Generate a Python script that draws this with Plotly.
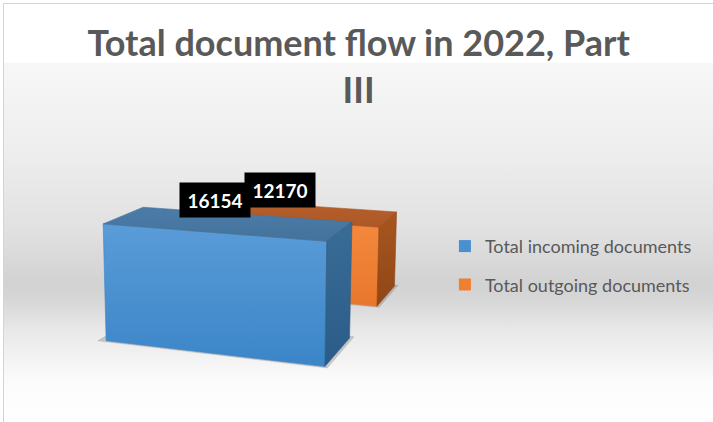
import math
import plotly.graph_objects as go

# ---- data -------------------------------------------------------------
SERIES = ["Total incoming documents", "Total outgoing documents"]
VALUES = [16154, 12170]
TITLE = "Total document flow in 2022, Part<br>III"

# ---- styling ------------------------------------------------------------
# per series: (front top, front bottom), (top face), (side top, side bottom), legend swatch
FACE_COLORS = [
    dict(front=("#5a9cd8", "#3b85c8"), top=("#4b7ca8", "#44729c"),
         side=("#3a6c98", "#2b5c88"), swatch="#4a8fd0"),
    dict(front=("#f58a3e", "#e8772c"), top=("#b5602c", "#ad5825"),
         side=("#a9561f", "#8f4616"), swatch="#f07f30"),
]
TEXT_GREY = "#595959"
W_PX, H_PX = 713, 422

# ---- simple pinhole camera for the 3-D columns ------------------------------
YAW = math.radians(20.0)
PITCH = math.radians(11.3)
FOCAL = 1084.0
CENTER = (241.0, 215.0)
CAM = (454.6, 316.7, -877.0)

BOX_W = 213.7          # column width (world units)
BOX_D = 86.7           # column depth
ROW_GAP = 115.0        # gap between series rows along the depth axis
UNITS_PER_DOC = 112.6 / 16154.0

sa, ca = math.sin(YAW), math.cos(YAW)
sb, cb = math.sin(PITCH), math.cos(PITCH)
RIGHT = (ca, 0.0, sa)
UP = (-sa * sb, cb, ca * sb)
FWD = (-sa * cb, -sb, ca * cb)


def project(X, Y, Z):
    p = (X - CAM[0], Y - CAM[1], Z - CAM[2])
    pr = sum(a * b for a, b in zip(p, RIGHT))
    pu = sum(a * b for a, b in zip(p, UP))
    pf = sum(a * b for a, b in zip(p, FWD))
    return CENTER[0] + FOCAL * pr / pf, CENTER[1] - FOCAL * pu / pf


def poly(points, c_top, c_bot, opacity=1.0):
    xy = [project(*p) for p in points]
    xs = [q[0] for q in xy] + [xy[0][0]]
    ys = [q[1] for q in xy] + [xy[0][1]]
    return go.Scatter(
        x=xs, y=ys, mode="lines", fill="toself",
        line=dict(width=0.6, color=c_bot),
        fillgradient=dict(type="vertical", colorscale=[[0, c_top], [1, c_bot]],
                          start=min(ys), stop=max(ys)),
        opacity=opacity, hoverinfo="skip", showlegend=False,
    )


fig = go.Figure()

# background: soft horizontal band inside a thin frame (frame runs off the right/bottom)
fig.add_trace(go.Scatter(
    x=[3.5, W_PX + 10, W_PX + 10, 3.5, 3.5], y=[3.5, 3.5, H_PX + 10, H_PX + 10, 3.5],
    mode="lines", fill="toself", line=dict(width=1, color="#d4d4d4"),
    fillgradient=dict(
        type="vertical", start=3.5, stop=H_PX,
        colorscale=[[0.0, "#ffffff"], [0.140, "#ffffff"], [0.143, "#f7f7f7"],
                    [0.35, "#eeeeee"], [0.54, "#e1e1e1"], [0.67, "#d2d2d2"],
                    [0.71, "#d7d7d7"], [0.78, "#e8e8e8"], [0.90, "#fbfbfb"],
                    [1.0, "#ffffff"]]),
    hoverinfo="skip", showlegend=False,
))

# draw the rear row first so the front row overlaps it
boxes = []
for i, (name, val) in enumerate(zip(SERIES, VALUES)):
    z0 = i * (BOX_D + ROW_GAP)
    boxes.append((i, name, val, 0.0, BOX_W, z0, z0 + BOX_D, val * UNITS_PER_DOC))

label_anchor = {}
for i, name, val, x0, x1, z0, z1, h in reversed(boxes):
    c = FACE_COLORS[i]
    # floor shadow
    fig.add_trace(poly([(x0 - 7, 0, z0 - 3), (x1 + 3, 0, z0 - 3),
                        (x1 + 3, 0, z1 + 5), (x0 - 7, 0, z1 + 5)],
                       "rgba(120,120,120,0.35)", "rgba(120,120,120,0.35)"))
    fig.add_trace(poly([(x0, 0, z0), (x1, 0, z0), (x1, h, z0), (x0, h, z0)],
                       *c["front"]))
    fig.add_trace(poly([(x0, h, z0), (x1, h, z0), (x1, h, z1), (x0, h, z1)],
                       *c["top"]))
    fig.add_trace(poly([(x1, 0, z0), (x1, 0, z1), (x1, h, z1), (x1, h, z0)],
                       *c["side"]))
    label_anchor[i] = project((x0 + x1) / 2, h, (z0 + z1) / 2)

# value labels
for i, val in enumerate(VALUES):
    ax, ay = label_anchor[i]
    fig.add_annotation(
        x=ax, y=ay, xref="x", yref="y", text=f"<b>{val}</b>", showarrow=False,
        xanchor="center", yanchor="bottom", xshift=-13, yshift=5,
        bgcolor="#000000", width=64, height=28, borderpad=3,
        font=dict(family="Lato", size=19, color="#ffffff"),
    )

# legend swatches
for i, name in enumerate(SERIES):
    fig.add_trace(go.Scatter(
        x=[None], y=[None], mode="markers", name=name, legendgroup=name,
        marker=dict(symbol="square", size=10, color=FACE_COLORS[i]["swatch"]),
    ))

fig.update_layout(
    width=W_PX, height=H_PX,
    margin=dict(l=0, r=0, t=0, b=0),
    paper_bgcolor="#ffffff", plot_bgcolor="#ffffff",
    title=dict(text=f"<b>{TITLE}</b>", x=0.503, xanchor="center",
               y=0.867, yanchor="top",
               font=dict(family="Lato", size=36, color=TEXT_GREY)),
    xaxis=dict(range=[0, W_PX], visible=False, fixedrange=True),
    yaxis=dict(range=[H_PX, 0], visible=False, fixedrange=True),
    showlegend=True,
    legend=dict(x=0.624, xanchor="left", y=0.46, yanchor="top",
                bgcolor="rgba(0,0,0,0)", tracegroupgap=12, itemwidth=30,
                itemsizing="constant",
                font=dict(family="Lato", size=18, color=TEXT_GREY)),
)

fig.write_html("out.html")
